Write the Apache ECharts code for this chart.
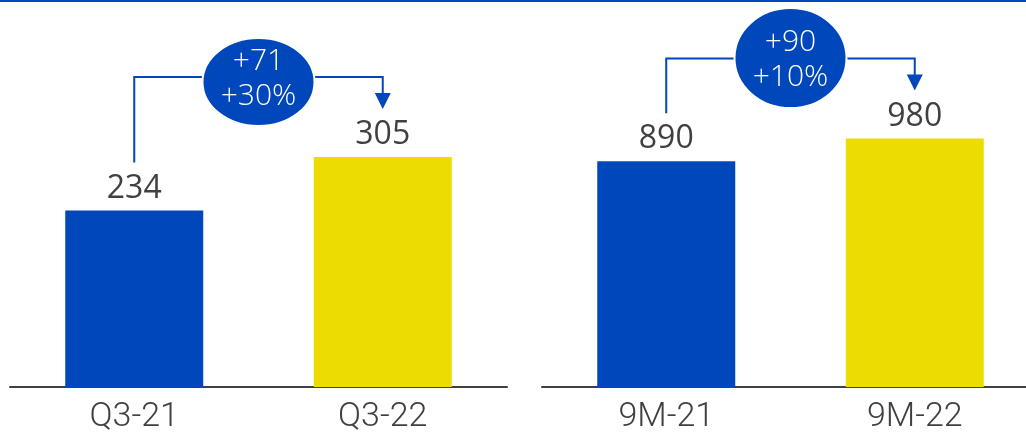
<!DOCTYPE html>
<html>
<head>
<meta charset="utf-8">
<script src="https://cdn.jsdelivr.net/npm/echarts@6/dist/echarts.min.js"></script>
<style>
html,body{margin:0;padding:0;background:#fff;overflow:hidden;}
#c{width:1040px;height:434px;}
</style>
</head>
<body>
<div id="c"></div>
<script>
// ---- data ----
const leftCategories = ['Q3-21', 'Q3-22'];
const leftValues = [234, 305];
const rightCategories = ['9M-21', '9M-22'];
const rightValues = [890, 980];
const deltaAbs = ['+71', '+90'];
const deltaPct = ['+30%', '+10%'];

// ---- style ----
const BLUE = '#0047BB';
const YELLOW = '#EDDC00';
const TXT = '#404040';
const FONT = '"Open Sans", sans-serif';
const CAT_FONT = 'Roboto, "Open Sans", sans-serif';

const chart = echarts.init(document.getElementById('c'), null, {renderer: 'canvas'});

function barSeries(idx, values) {
  return {
    type: 'bar', xAxisIndex: idx, yAxisIndex: idx,
    barWidth: 138,
    data: values.map((v, i) => ({value: v, itemStyle: {color: i === 0 ? BLUE : YELLOW}})),
    label: {show: true, position: 'top', distance: 6, color: TXT, fontSize: 32, fontFamily: FONT},
    silent: true
  };
}
function xAx(idx, cats) {
  return {
    type: 'category', gridIndex: idx, data: cats,
    axisLine: {lineStyle: {color: TXT, width: 2}},
    axisTick: {show: false},
    axisLabel: {color: TXT, fontSize: 34, fontWeight: 300, fontFamily: CAT_FONT, margin: 13}
  };
}
function yAx(idx, max) {
  return {type: 'value', gridIndex: idx, min: 0, max: max, show: false, splitLine: {show: false}};
}

chart.setOption({
  animation: false,
  grid: [
    {left: 10, width: 497, top: 28, bottom: 46},
    {left: 542, width: 497, top: 28, bottom: 46}
  ],
  xAxis: [xAx(0, leftCategories), xAx(1, rightCategories)],
  yAxis: [yAx(0, 476), yAx(1, 1416)],
  series: [barSeries(0, leftValues), barSeries(1, rightValues)]
});

// annotations: connector + bubble per panel, derived from data via axis scales
const bubbleStyle = [
  {ry: 44, dy: 5, textDy: -3},
  {ry: 50, dy: -0.5, textDy: 2}
];
const panels = [
  {cats: leftCategories, vals: leftValues},
  {cats: rightCategories, vals: rightValues}
];
const graphics = [{
  type: 'line', shape: {x1: 0, y1: 1, x2: 1040, y2: 1},
  style: {stroke: BLUE, lineWidth: 2}, silent: true
}];
panels.forEach((p, g) => {
  const a = chart.convertToPixel({gridIndex: g}, [p.cats[0], p.vals[0]]);
  const b = chart.convertToPixel({gridIndex: g}, [p.cats[1], p.vals[1]]);
  const startY = a[1] - 48;
  const tipY = b[1] - 48;
  const lineY = Math.min(a[1], b[1]) - 80;
  const ah = 16, aw = 8;
  graphics.push({
    type: 'polyline',
    shape: {points: [[a[0], startY], [a[0], lineY], [b[0], lineY], [b[0], tipY - ah + 1]]},
    style: {stroke: BLUE, lineWidth: 2, fill: null}, silent: true
  });
  graphics.push({
    type: 'polygon',
    shape: {points: [[b[0] - aw, tipY - ah], [b[0] + aw, tipY - ah], [b[0], tipY]]},
    style: {fill: BLUE}, silent: true
  });
  const cx = (a[0] + b[0]) / 2;
  const cy = lineY + bubbleStyle[g].dy;
  graphics.push({
    type: 'ellipse',
    shape: {cx: cx, cy: cy, rx: 56, ry: bubbleStyle[g].ry},
    style: {fill: BLUE, stroke: '#fff', lineWidth: 2}, silent: true
  });
  graphics.push({
    type: 'text', x: cx, y: cy + bubbleStyle[g].textDy,
    style: {
      text: deltaAbs[g] + '\n' + deltaPct[g],
      fill: '#fff', fontSize: 30, fontWeight: 300, fontFamily: FONT, lineHeight: 35,
      align: 'center', verticalAlign: 'middle'
    }, silent: true
  });
});
chart.setOption({graphic: graphics});
</script>
</body>
</html>
